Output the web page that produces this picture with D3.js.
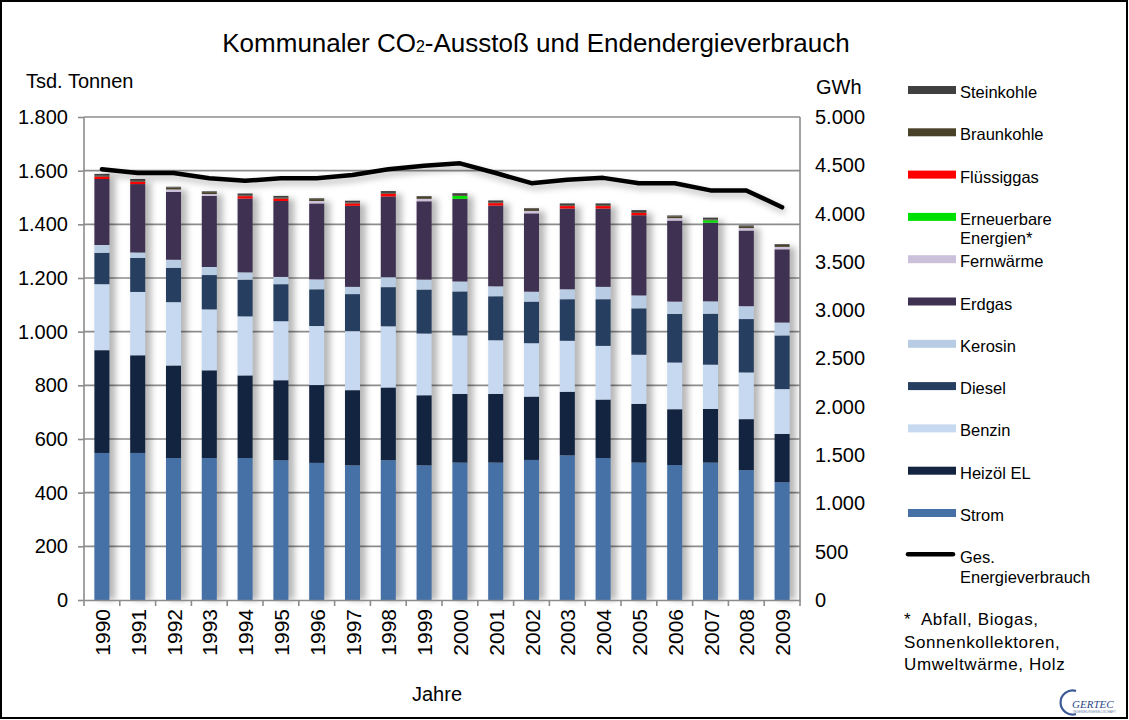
<!DOCTYPE html>
<html>
<head>
<meta charset="utf-8">
<script src="https://cdn.jsdelivr.net/npm/d3@7/dist/d3.min.js"></script>
<style>
  html, body { margin: 0; padding: 0; background: #fff; }
  svg { display: block; font-family: "Liberation Sans", Arial, sans-serif; }
</style>
</head>
<body>
<svg id="chart" width="1129" height="720"></svg>
<script>
// Years on the category axis
const years = ["1990","1991","1992","1993","1994","1995","1996","1997","1998","1999",
               "2000","2001","2002","2003","2004","2005","2006","2007","2008","2009"];

// CO2 emissions per energy carrier (thousand tonnes)
const strom       = [548,548,529,529,529,521,511,502,521,502,512,512,522,539,529,512,503,512,484,439];
const heizoel     = [383,364,345,327,308,298,290,280,271,261,256,256,236,237,218,219,208,200,190,180];
const benzin      = [246,236,236,227,220,220,220,220,228,230,218,200,199,190,200,183,174,165,174,167];
const diesel      = [117,127,128,128,137,138,137,138,146,164,164,164,155,155,174,173,181,190,199,200];
const kerosin     = [ 29, 20, 30, 30, 27, 27, 37, 27, 37, 37, 37, 37, 37, 37, 46, 48, 46, 46, 48, 48];
const erdgas      = [246,255,253,265,275,283,283,302,301,292,308,301,292,301,292,299,302,293,282,273];
const fernwaerme  = [  0,  0,  9,  7,  0,  0,  9,  0,  0,  9,  0,  0,  9,  0,  0,  0,  9,  0,  9,  9];
const erneuerbare = [  0,  0,  0,  0,  0,  0,  0,  0,  0,  0, 11,  0,  0,  0,  0,  0,  0,  9,  0,  0];
const fluessiggas = [  9,  9,  0,  0,  9,  9,  0,  9, 10,  0,  0,  9,  0,  9,  9,  9,  0,  0,  0,  0];
const braunkohle  = [  3,  3,  7,  7,  3,  3,  7,  3,  3,  7,  3,  3,  7,  3,  3,  3,  7,  3,  7,  7];
const steinkohle  = [  7,  7,  3,  3,  7,  7,  3,  7,  7,  3,  7,  7,  3,  7,  7,  7,  3,  7,  3,  3];

// Total final energy consumption (GWh), right axis
const energie = [4460,4420,4420,4365,4340,4365,4365,4400,4460,4495,4520,4420,4315,4350,4370,4315,4315,4240,4240,4065];

// Axis tick labels
const leftTicks  = [0,200,400,600,800,1000,1200,1400,1600,1800];
const rightTicks = [0,500,1000,1500,2000,2500,3000,3500,4000,4500,5000];

// Series in stacking order (bottom to top)
const series = [
  { key: "Strom",       label: ["Strom"],                   values: strom,       color: "#4571a7" },
  { key: "Heizöl EL",   label: ["Heizöl EL"],               values: heizoel,     color: "#12243f" },
  { key: "Benzin",      label: ["Benzin"],                  values: benzin,      color: "#c6d9f0" },
  { key: "Diesel",      label: ["Diesel"],                  values: diesel,      color: "#263f60" },
  { key: "Kerosin",     label: ["Kerosin"],                 values: kerosin,     color: "#b8cce4" },
  { key: "Erdgas",      label: ["Erdgas"],                  values: erdgas,      color: "#3f3151" },
  { key: "Fernwärme",   label: ["Fernwärme"],               values: fernwaerme,  color: "#ccc1da" },
  { key: "Erneuerbare", label: ["Erneuerbare","Energien*"], values: erneuerbare, color: "#00e000" },
  { key: "Flüssiggas",  label: ["Flüssiggas"],              values: fluessiggas, color: "#ff0000" },
  { key: "Braunkohle",  label: ["Braunkohle"],              values: braunkohle,  color: "#4a4228" },
  { key: "Steinkohle",  label: ["Steinkohle"],              values: steinkohle,  color: "#404040" }
];

const rows = years.map((y, i) => {
  const r = { year: y };
  series.forEach(s => r[s.key] = s.values[i]);
  return r;
});

const svg = d3.select("#chart");
const fmt = d3.formatLocale({ decimal: ",", thousands: ".", grouping: [3], currency: ["", "€"] }).format(",d");

// Outer frame
svg.append("rect").attr("x", 1).attr("y", 1).attr("width", 1126).attr("height", 717)
  .attr("fill", "#fff").attr("stroke", "#000").attr("stroke-width", 2);

const defs = svg.append("defs");
const sh = defs.append("filter").attr("id", "shadow").attr("x", "-50%").attr("y", "-20%").attr("width", "250%").attr("height", "140%");
sh.append("feGaussianBlur").attr("stdDeviation", 3.2);

const x0 = 84, x1 = 800, yTop = 117, yBot = 600;
const x = d3.scaleBand().domain(years).range([x0, x1]).paddingInner(0.58).paddingOuter(0.29);
const yL = d3.scaleLinear().domain([0, 1800]).range([yBot, yTop]);
const yR = d3.scaleLinear().domain([0, 5000]).range([yBot, yTop]);

// Horizontal grid lines
svg.append("g").selectAll("line").data(leftTicks.filter(d => d > 0)).join("line")
  .attr("x1", x0).attr("x2", x1).attr("y1", d => yL(d)).attr("y2", d => yL(d))
  .attr("stroke", "#8c8c8c").attr("stroke-width", 1.6);

// Bar shadows
const stack = d3.stack().keys(series.map(s => s.key))(rows);
const totals = rows.map(r => d3.sum(series, s => r[s.key]));
svg.append("g").attr("filter", "url(#shadow)").selectAll("rect").data(years).join("rect")
  .attr("x", d => x(d) + 4).attr("width", x.bandwidth() + 2)
  .attr("y", (d, i) => yL(totals[i]) + 3).attr("height", (d, i) => yBot - yL(totals[i]) - 3)
  .attr("fill", "#000").attr("opacity", 0.28);

// Stacked bars
svg.append("g").selectAll("g").data(stack).join("g")
  .attr("fill", (d, i) => series[i].color)
  .selectAll("rect").data(d => d.filter(p => p[1] > p[0])).join("rect")
  .attr("x", d => x(d.data.year)).attr("width", x.bandwidth())
  .attr("y", d => yL(d[1])).attr("height", d => yL(d[0]) - yL(d[1]));

// Axes
const axL = svg.append("g").attr("transform", `translate(${x0},0)`)
  .call(d3.axisLeft(yL).tickValues(leftTicks).tickFormat(fmt).tickSize(6).tickPadding(10));
const axR = svg.append("g").attr("transform", `translate(${x1},0)`)
  .call(d3.axisRight(yR).tickValues(rightTicks).tickFormat(fmt).tickSize(0).tickPadding(15));
const axB = svg.append("g").attr("transform", `translate(0,${yBot})`)
  .call(d3.axisBottom(x).tickSize(0).tickFormat(""));
[axL, axR, axB].forEach(a => {
  a.select(".domain").attr("stroke", "#8c8c8c").attr("stroke-width", 1.6);
  a.selectAll(".tick line").attr("stroke", "#8c8c8c").attr("stroke-width", 1.6);
  a.selectAll("text").attr("font-size", 20).attr("fill", "#000").attr("font-family", "Liberation Sans, Arial, sans-serif");
});
axR.select(".domain").attr("d", `M0,${yTop}V${yBot}`);
axL.select(".domain").attr("d", `M0,${yTop}V${yBot}`);

// Category boundary ticks on the x axis
const bounds = d3.range(years.length + 1).map(i => x0 + i * x.step());
svg.append("g").selectAll("line").data(bounds).join("line")
  .attr("x1", d => d).attr("x2", d => d).attr("y1", yBot).attr("y2", yBot + 6)
  .attr("stroke", "#8c8c8c").attr("stroke-width", 1.6);

// Rotated year labels
svg.append("g").selectAll("text").data(years).join("text")
  .attr("transform", d => `translate(${x(d) + x.bandwidth() / 2 + 8},609) rotate(-90)`)
  .attr("text-anchor", "end").attr("font-size", 21).text(d => d);

// Energy consumption line with soft shadow
const line = d3.line().x((d, i) => x(years[i]) + x.bandwidth() / 2).y(d => yR(d));
svg.append("path").datum(energie).attr("d", line)
  .attr("transform", "translate(3,4)")
  .attr("fill", "none").attr("stroke", "#000").attr("stroke-opacity", 0.25)
  .attr("stroke-width", 5).attr("filter", "url(#shadow)");
svg.append("path").datum(energie).attr("d", line)
  .attr("fill", "none").attr("stroke", "#000").attr("stroke-width", 4.5)
  .attr("stroke-linejoin", "round").attr("stroke-linecap", "round");

// Titles
const title = svg.append("text").attr("x", 536).attr("y", 52).attr("text-anchor", "middle").attr("font-size", 26);
title.append("tspan").text("Kommunaler CO");
title.append("tspan").attr("font-size", 16).text("2");
title.append("tspan").text("-Ausstoß und Endendergieverbrauch");

svg.append("text").attr("x", 26).attr("y", 88).attr("font-size", 20).text("Tsd. Tonnen");
svg.append("text").attr("x", 816).attr("y", 94).attr("font-size", 20).text("GWh");
svg.append("text").attr("x", 437).attr("y", 701).attr("text-anchor", "middle").attr("font-size", 20).text("Jahre");

// Legend (top entry = last stacked series)
const legendItems = series.slice().reverse();
const lg = svg.append("g");
legendItems.forEach((s, i) => {
  const cy = 90 + i * 42.3;
  lg.append("rect").attr("x", 908).attr("y", cy - 4).attr("width", 48).attr("height", 8).attr("fill", s.color);
  const t = lg.append("text").attr("x", 960).attr("y", cy + 8).attr("font-size", 16.5);
  s.label.forEach((l, j) => t.append("tspan").attr("x", 960).attr("dy", j ? 19.5 : 0).text(l));
});
const ly = 90 + legendItems.length * 42.3;
lg.append("line").attr("x1", 908).attr("x2", 953).attr("y1", ly - 1).attr("y2", ly - 1)
  .attr("stroke", "#000").attr("stroke-width", 4.5).attr("stroke-linecap", "round");
const lt = lg.append("text").attr("x", 960).attr("y", ly + 8).attr("font-size", 16.5);
lt.append("tspan").attr("x", 960).text("Ges.");
lt.append("tspan").attr("x", 960).attr("dy", 19.5).text("Energieverbrauch");

// Footnote
const fn = svg.append("text").attr("x", 904).attr("y", 625).attr("font-size", 17).attr("letter-spacing", 0.6)
  .attr("xml:space", "preserve").style("white-space", "pre");
["*  Abfall, Biogas,", "Sonnenkollektoren,", "Umweltwärme, Holz"].forEach((l, j) =>
  fn.append("tspan").attr("x", 904).attr("dy", j ? 22.5 : 0).text(l));

// Company mark
const logo = svg.append("g").attr("transform", "translate(1064,688)");
logo.append("path").attr("d", "M12,3 A12,12 0 1 0 12,26").attr("fill", "none")
  .attr("stroke", "#3d5a96").attr("stroke-width", 2.2);
logo.append("text").attr("x", 8).attr("y", 20).attr("font-size", 11).attr("font-style", "italic")
  .attr("font-family", "Liberation Serif, serif").attr("fill", "#2c4886").text("GERTEC");
logo.append("text").attr("x", 9).attr("y", 25).attr("font-size", 3.2).attr("fill", "#6b7fae").text("INGENIEURGESELLSCHAFT");
</script>
</body>
</html>
